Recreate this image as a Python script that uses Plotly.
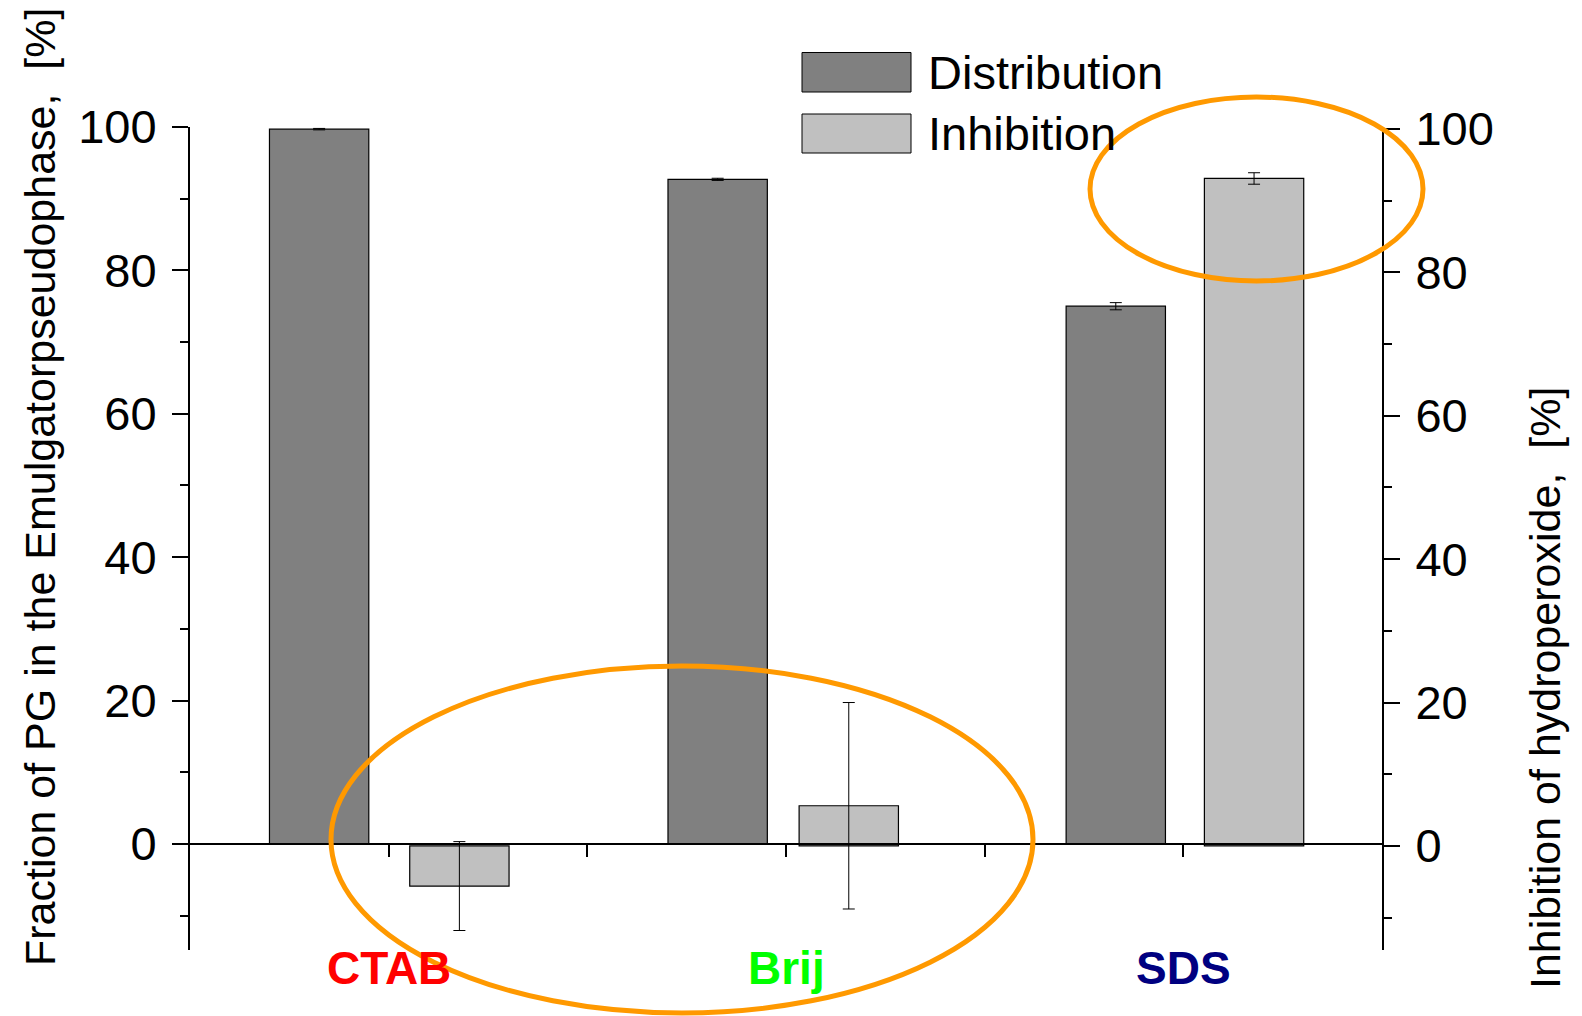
import plotly.graph_objects as go

categories = ["CTAB", "Brij", "SDS"]
cat_colors = ["#FF0000", "#00FF00", "#000080"]
cat_pos = [1, 2, 3]
series_names = ["Distribution", "Inhibition"]
distribution = [99.7, 92.7, 75.0]
distribution_err = [0.1, 0.15, 0.5]
inhibition = [-5.6, 5.6, 93.1]
inhibition_err = [6.2, 14.4, 0.8]
y_ticks = [0, 20, 40, 60, 80, 100]

OFF = 8  # page body margin
W, H = 1582 - OFF, 1016 - OFF
L, R, T, B = 190, 1382, 127, 950  # page pixel coordinates of the plot area
PW, PH = R - L, B - T
def px(x):
    return (x - L) / PW
def py(y):
    return (B - y) / PH

FONT = "Arial, Liberation Sans, sans-serif"
y_lo, y_hi = -14.8, 100.0
shift = 0.28

fig = go.Figure()
fig.add_trace(go.Bar(
    x=cat_pos, y=distribution, name=series_names[0],
    offset=[-0.30, -0.297, -0.295], width=0.25,
    marker=dict(color="#808080", line=dict(color="black", width=1.2)),
    error_y=dict(type="data", array=distribution_err, color="black", thickness=1, width=6),
    yaxis="y", showlegend=False,
))
fig.add_trace(go.Bar(
    x=cat_pos, y=inhibition, name=series_names[1],
    offset=[0.053, 0.033, 0.053], width=0.25,
    marker=dict(color="#C0C0C0", line=dict(color="black", width=1.2)),
    error_y=dict(type="data", array=inhibition_err, color="black", thickness=1, width=6),
    yaxis="y2", showlegend=False,
))

axis_common = dict(
    showline=True, linecolor="black", linewidth=2,
    ticks="outside", ticklen=16, tickwidth=2, tickcolor="black",
    tickvals=y_ticks, showgrid=False, zeroline=False,
    tickfont=dict(family=FONT, size=47, color="black"),
    ticklabelstandoff=6,
    minor=dict(dtick=10, tick0=0, ticks="outside", ticklen=8, tickwidth=2, tickcolor="black", showgrid=False),
)

fig.update_layout(
    width=W, height=H,
    margin=dict(l=L - OFF, r=W - (R - OFF), t=T - OFF, b=H - (B - OFF), pad=0),
    paper_bgcolor="white", plot_bgcolor="white",
    barmode="overlay",
    xaxis=dict(
        range=[0.5, 3.5], anchor="free", position=(0 - y_lo) / (y_hi - y_lo),
        showline=True, linecolor="black", linewidth=2,
        ticks="outside", ticklen=12, tickwidth=2, tickcolor="black",
        tickvals=[1, 1.5, 2, 2.5, 3], showticklabels=False,
        showgrid=False, zeroline=False,
    ),
    yaxis=dict(range=[y_lo, y_hi], **axis_common),
    yaxis2=dict(range=[y_lo + shift, y_hi + shift], overlaying="y", side="right", anchor="x", **axis_common),
)

annotations = []
for c, col, xp in zip(categories, cat_colors, cat_pos):
    annotations.append(dict(
        x=xp, y=py(968), xref="x", yref="paper", text="<b>%s</b>" % c,
        showarrow=False, xanchor="center", yanchor="middle",
        font=dict(family=FONT, size=46, color=col),
    ))
annotations.append(dict(
    x=px(40), y=py(487), xref="paper", yref="paper",
    text="Fraction of PG in the Emulgatorpseudophase,  [%]", textangle=-90,
    showarrow=False, xanchor="center", yanchor="middle",
    font=dict(family=FONT, size=43, color="black"),
))
annotations.append(dict(
    x=px(1545), y=py(688), xref="paper", yref="paper",
    text="Inhibition of hydroperoxide,  [%]", textangle=-90,
    showarrow=False, xanchor="center", yanchor="middle",
    font=dict(family=FONT, size=43, color="black"),
))
# legend
leg_items = [(series_names[0], "#808080", 52.5, 92), (series_names[1], "#C0C0C0", 114, 153)]
shapes = []
for name, col, y0, y1 in leg_items:
    shapes.append(dict(type="rect", xref="paper", yref="paper",
                       x0=px(802), x1=px(911), y0=py(y1), y1=py(y0),
                       fillcolor=col, line=dict(color="black", width=1)))
    annotations.append(dict(
        x=px(926), y=py((y0 + y1) / 2), xref="paper", yref="paper", text=name,
        showarrow=False, xanchor="left", yanchor="middle",
        font=dict(family=FONT, size=47, color="black"),
    ))
# highlight ellipses
for x0, x1, y0, y1 in [(331, 1033, 666, 1013), (1090, 1423, 97, 281)]:
    shapes.append(dict(type="circle", xref="paper", yref="paper",
                       x0=px(x0), x1=px(x1), y0=py(y1), y1=py(y0),
                       line=dict(color="rgb(255,153,0)", width=5), layer="above"))

fig.update_layout(annotations=annotations, shapes=shapes)
fig.write_html("out.html")
